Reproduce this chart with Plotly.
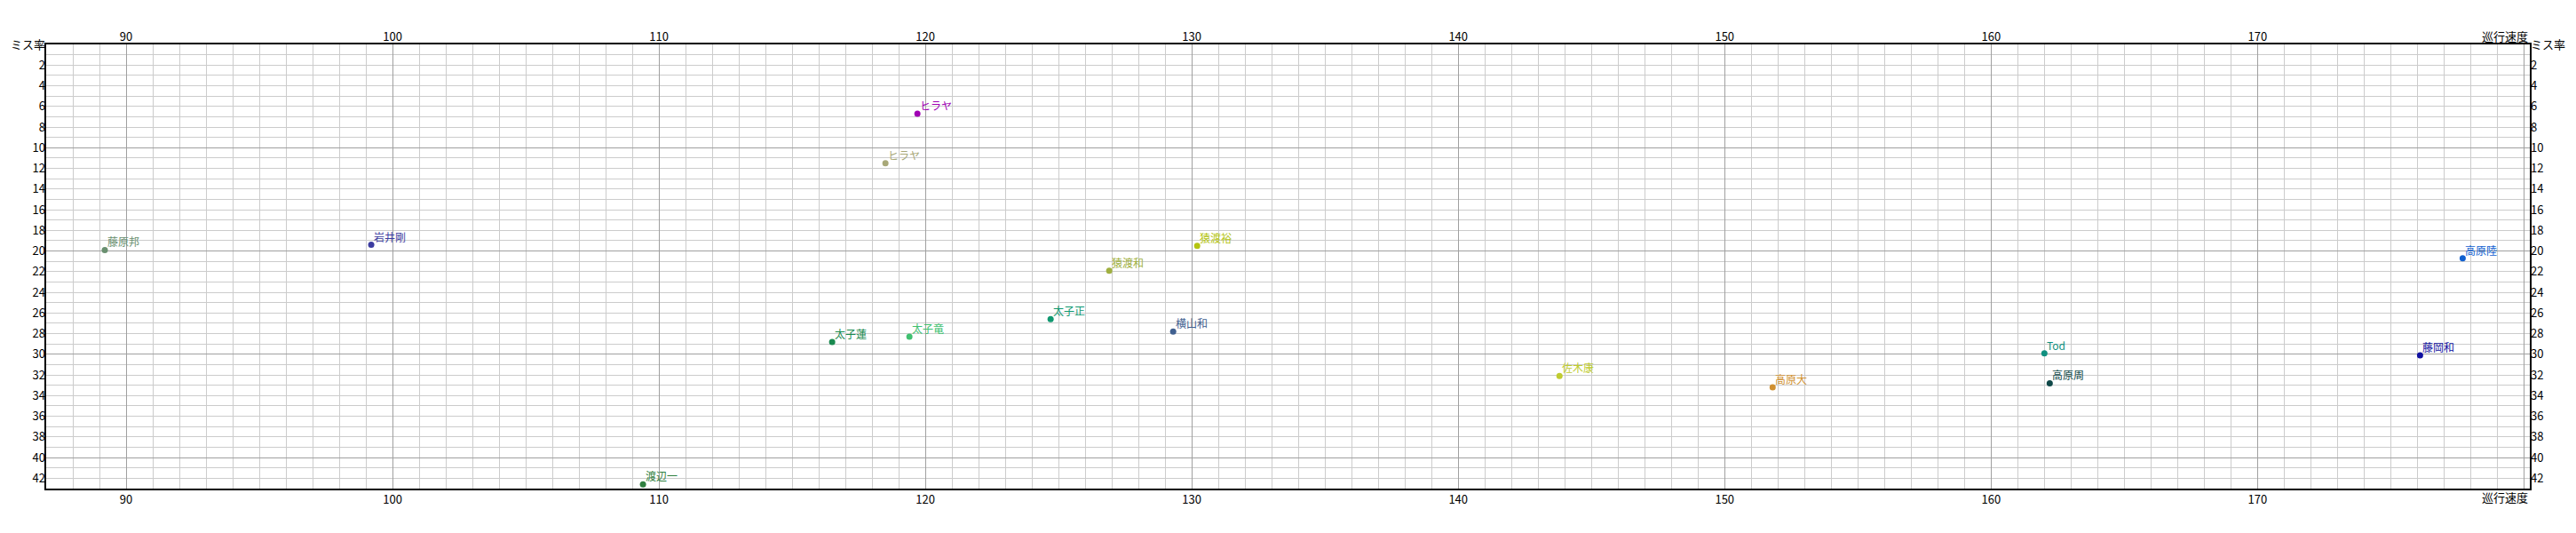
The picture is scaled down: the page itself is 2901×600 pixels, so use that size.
import plotly.graph_objects as go

# ---- data ----
names = ["ヒラヤ", "ヒラヤ", "藤原邦", "岩井剛", "猿渡裕", "猿渡和", "太子蓮", "太子竜",
         "太子正", "横山和", "渡辺一", "佐木康", "高原大", "Tod", "高原周", "高原陸", "藤岡和"]
speed = [119.7, 118.5, 89.2, 99.2, 130.2, 126.9, 116.5, 119.4,
         124.7, 129.3, 109.4, 143.8, 151.8, 162.0, 162.2, 177.7, 176.1]
miss_rate = [6.7, 11.5, 19.9, 19.4, 19.5, 21.9, 28.8, 28.3,
             26.6, 27.8, 42.6, 32.1, 33.2, 29.9, 32.8, 20.7, 30.1]
colors = ["#a000b4", "#a8a878", "#6a9070", "#3c3ca0", "#b4c410", "#a0b040", "#1a8a50", "#40c070",
          "#109870", "#406090", "#308040", "#c0cc30", "#d09030", "#109080", "#104848", "#1060d0", "#1010a0"]

x_tick_vals = [90, 100, 110, 120, 130, 140, 150, 160, 170, 180]
x_tick_text = ["90", "100", "110", "120", "130", "140", "150", "160", "170", ""]
y_tick_vals = list(range(0, 43, 2))
y_tick_text = ["ミス率"] + [str(v) for v in y_tick_vals[1:]]
y_major = [0, 10, 20, 30, 40]
x_label = "巡行速度"

X_RANGE = [87, 180.22]
Y_RANGE = [43, 0]

FONT = "Liberation Sans Narrow, Noto Sans CJK JP, sans-serif"
CJK = "Noto Sans CJK JP, sans-serif"
MAJOR_GRID = "#a0a0a0"
MINOR_GRID = "#cccccc"

fig = go.Figure()
fig.add_trace(go.Scatter(
    x=speed, y=miss_rate, mode="markers",
    marker=dict(size=7, color=colors),
    showlegend=False, cliponaxis=False,
))
# dummy traces to realise overlay axes
fig.add_trace(go.Scatter(x=[None], y=[None], xaxis="x2", yaxis="y2", showlegend=False, hoverinfo="skip"))
fig.add_trace(go.Scatter(x=[None], y=[None], xaxis="x", yaxis="y3", showlegend=False, hoverinfo="skip"))

tickfont = dict(family=FONT, size=13, color="black")

annotations = [
    dict(text=n, x=xv, y=yv, xref="x", yref="y", xanchor="left", yanchor="bottom",
         xshift=1, yshift=-1, showarrow=False, font=dict(family=CJK, size=12, color=c))
    for n, xv, yv, c in zip(names, speed, miss_rate, colors)
]
annotations += [
    dict(text=x_label, xref="paper", yref="paper", x=1, y=1, xanchor="right", yanchor="bottom",
         showarrow=False, font=dict(family=CJK, size=13, color="black"), yshift=-2),
    dict(text=x_label, xref="paper", yref="paper", x=1, y=0, xanchor="right", yanchor="top",
         showarrow=False, font=dict(family=CJK, size=13, color="black"), yshift=2),
]

# page body has an 8px margin, so size the figure to fit inside the window
fig.update_layout(
    width=2885, height=584,
    margin=dict(l=44, r=44, t=42, b=42, autoexpand=False),
    plot_bgcolor="white", paper_bgcolor="white",
    xaxis=dict(
        range=X_RANGE, tickmode="array", tickvals=x_tick_vals, ticktext=x_tick_text,
        showgrid=True, gridcolor=MAJOR_GRID, gridwidth=1,
        minor=dict(tickmode="linear", tick0=0, dtick=1, showgrid=True, gridcolor=MINOR_GRID, gridwidth=1),
        showline=True, linecolor="black", linewidth=1.5, mirror=True,
        ticks="", zeroline=False, tickfont=tickfont, side="bottom", automargin=False,
    ),
    xaxis2=dict(
        range=X_RANGE, overlaying="x", side="top", anchor="y",
        tickmode="array", tickvals=x_tick_vals, ticktext=x_tick_text,
        showgrid=False, ticks="", zeroline=False, tickfont=tickfont, showline=False, automargin=False,
    ),
    yaxis=dict(
        range=Y_RANGE, tickmode="array", tickvals=y_major, showticklabels=False,
        showgrid=True, gridcolor=MAJOR_GRID, gridwidth=1,
        minor=dict(tickmode="linear", tick0=0, dtick=1, showgrid=True, gridcolor=MINOR_GRID, gridwidth=1),
        showline=True, linecolor="black", linewidth=1.5, mirror=True,
        ticks="", zeroline=False, automargin=False,
    ),
    yaxis2=dict(
        range=Y_RANGE, overlaying="y", side="left", anchor="x2",
        tickmode="array", tickvals=y_tick_vals, ticktext=y_tick_text,
        showgrid=False, ticks="", zeroline=False, tickfont=tickfont, showline=False, automargin=False,
    ),
    yaxis3=dict(
        range=Y_RANGE, overlaying="y", side="right", anchor="x",
        tickmode="array", tickvals=y_tick_vals, ticktext=y_tick_text,
        showgrid=False, ticks="", zeroline=False, tickfont=tickfont, showline=False, automargin=False,
    ),
    annotations=annotations,
)

fig.write_html("out.html")
